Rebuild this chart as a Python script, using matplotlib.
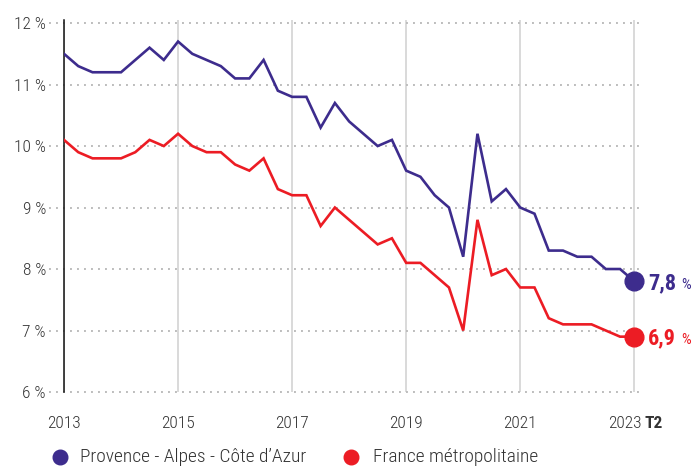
import numpy as np
import matplotlib
matplotlib.use("Agg")
import matplotlib.pyplot as plt
from matplotlib import font_manager

# taux de chômage trimestriel, 2013 -> 2023 T2
paca = [11.5, 11.3, 11.2, 11.2, 11.2, 11.4, 11.6, 11.4, 11.7, 11.5,
        11.4, 11.3, 11.1, 11.1, 11.4, 10.9, 10.8, 10.8, 10.3, 10.7,
        10.4, 10.2, 10.0, 10.1, 9.6, 9.5, 9.2, 9.0, 8.2, 10.2,
        9.1, 9.3, 9.0, 8.9, 8.3, 8.3, 8.2, 8.2, 8.0, 8.0, 7.8]
france = [10.1, 9.9, 9.8, 9.8, 9.8, 9.9, 10.1, 10.0, 10.2, 10.0,
          9.9, 9.9, 9.7, 9.6, 9.8, 9.3, 9.2, 9.2, 8.7, 9.0,
          8.8, 8.6, 8.4, 8.5, 8.1, 8.1, 7.9, 7.7, 7.0, 8.8,
          7.9, 8.0, 7.7, 7.7, 7.2, 7.1, 7.1, 7.1, 7.0, 6.9, 6.9]
year_ticks = [2013, 2015, 2017, 2019, 2021, 2023]
y_ticks = [6, 7, 8, 9, 10, 11, 12]
series_names = ["Provence - Alpes - Côte d’Azur", "France métropolitaine"]
last_labels = ["7,8", "6,9"]

PURPLE = "#3d2c8d"
RED = "#ec1c24"
GREY_TXT = "#333333"
GRID = "#cfcfcf"
LIGHT = 300

names = {f.name for f in font_manager.fontManager.ttflist}
FONT = "Roboto"
for cand in ["Roboto Condensed", "Liberation Sans Narrow"]:
    if cand in names:
        FONT = cand
        break
plt.rcParams["font.family"] = [FONT, "DejaVu Sans"]

x = 2013 + np.arange(len(paca)) / 4.0

W, H = 697, 468
fig = plt.figure(figsize=(W / 100, H / 100), dpi=100)
ax = fig.add_axes([64 / W, 76 / H, 576 / W, 372 / H])

ax.set_xlim(2013, 2023.1)
ax.set_ylim(6, 12.05)

for yr in year_ticks:
    ax.axvline(yr, color=GRID, lw=1.1, zorder=1)
for v in y_ticks:
    ax.plot([2012.74, 2023.1], [v, v], color="#bdbdbd", lw=1.4,
            ls=(0, (1, 2.6)), dash_capstyle="butt", clip_on=False, zorder=1)

for s in ["top", "right", "bottom"]:
    ax.spines[s].set_visible(False)
ax.spines["left"].set_color("#111111")
ax.spines["left"].set_linewidth(1.1)
ax.spines["left"].set_zorder(3)

ax.plot(x, paca, color=PURPLE, lw=1.9, zorder=4, solid_joinstyle="miter")
ax.plot(x, france, color=RED, lw=1.9, zorder=4, solid_joinstyle="miter")
for serie, col, lab in [(paca, PURPLE, last_labels[0]), (france, RED, last_labels[1])]:
    ax.plot(x[-1], serie[-1], "o", ms=13.5, color=col, zorder=5, clip_on=False)
    ax.annotate(lab, xy=(x[-1], serie[-1]), xytext=(10, -5.5),
                textcoords="offset points", ha="left", va="baseline",
                fontsize=16, fontweight="bold", color=col)
    ax.annotate("%", xy=(x[-1], serie[-1]), xytext=(33.5, -5.5),
                textcoords="offset points", ha="left", va="baseline",
                fontsize=11, color=col)

ax.set_yticks(y_ticks)
ax.set_yticklabels([f"{v} %" for v in y_ticks])
ax.tick_params(axis="y", length=0, pad=13, labelsize=12.5, labelcolor=GREY_TXT)
ax.set_xticks(year_ticks)
ax.set_xticklabels([str(v) for v in year_ticks[:-1]] + [""])
ax.tick_params(axis="x", length=0, pad=17.5, labelsize=12.5, labelcolor=GREY_TXT)
for t in ax.get_xticklabels() + ax.get_yticklabels():
    t.set_fontweight(LIGHT)

# dernier trimestre : "2023 T2"
ax.annotate(str(year_ticks[-1]), xy=(year_ticks[-1], 6), xytext=(5, -17.5),
            textcoords="offset points", ha="right", va="top",
            fontsize=12.5, fontweight=LIGHT, color=GREY_TXT,
            annotation_clip=False)
ax.annotate("T2", xy=(year_ticks[-1], 6), xytext=(7, -17.5),
            textcoords="offset points", ha="left", va="top",
            fontsize=12.5, fontweight="bold", color=GREY_TXT,
            annotation_clip=False)

# légende
ly = 1 - 457 / H
for (mx, tx), col, name in zip([(60, 80), (351, 373)], [PURPLE, RED], series_names):
    fig.add_artist(plt.Line2D([mx / W], [ly], marker="o", ms=10.5, color=col,
                              transform=fig.transFigure))
    fig.text(tx / W, ly, name, ha="left", va="center", fontsize=14,
             fontweight=LIGHT, color=GREY_TXT)

fig.savefig("out.png", dpi=100, facecolor="white")
